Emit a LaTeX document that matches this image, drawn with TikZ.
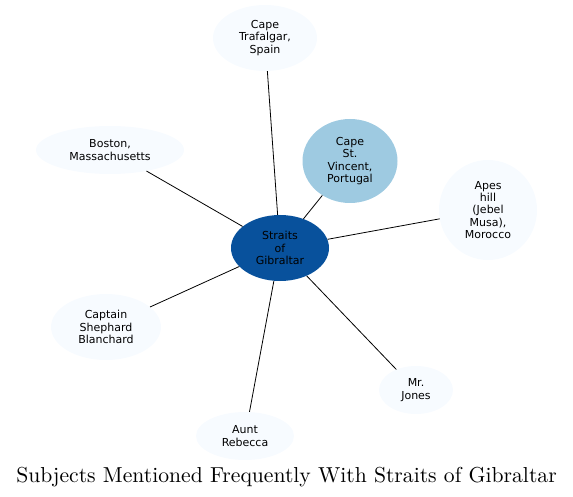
\documentclass[tikz,border=0pt]{standalone}
\usepackage{fontspec}
\usetikzlibrary{shapes.geometric}
\newfontfamily\labelfont{DejaVu Sans}
\definecolor{hubfill}{HTML}{08519C}
\definecolor{nearfill}{HTML}{9ECAE1}
\definecolor{farfill}{HTML}{F7FBFF}

\begin{document}
\begin{tikzpicture}[
  x=1pt, y=-1pt,
  font=\labelfont\fontsize{11}{12.2}\selectfont,
  topic/.style={ellipse, draw=none, fill=farfill, inner sep=0pt, align=center},
  hub/.style={topic, fill=hubfill},
  near/.style={topic, fill=nearfill},
  link/.style={draw=black, line width=0.8pt},
  caption/.style={font=\rmfamily\fontsize{10}{12}\selectfont, scale=2.165, anchor=base}
]
  \useasboundingbox (0,0) rectangle (573,497);
  \node[hub, minimum width=98, minimum height=66]   (gib)   at (280,248) {Straits\\of\\Gibraltar};
  \node[near, minimum width=95, minimum height=84]  (vinc)  at (350,161) {Cape\\St.\\Vincent,\\Portugal};
  \node[topic, minimum width=104, minimum height=66] (traf) at (265,38)  {Cape\\Trafalgar,\\Spain};
  \node[topic, minimum width=148, minimum height=48] (bost) at (110,150) {Boston,\\Massachusetts};
  \node[topic, minimum width=98, minimum height=100] (apes) at (488,210) {Apes\\hill\\(Jebel\\Musa),\\Morocco};
  \node[topic, minimum width=110, minimum height=66] (capt) at (106,327) {Captain\\Shephard\\Blanchard};
  \node[topic, minimum width=98, minimum height=48]  (aunt) at (245,436) {Aunt\\Rebecca};
  \node[topic, minimum width=74, minimum height=48]  (jones) at (416,390) {Mr.\\Jones};
  \foreach \n in {vinc,traf,bost,apes,capt,aunt,jones}
    \draw[link] (gib) -- (\n);
  \node[caption] (title) at (286.5,482) {Subjects Mentioned Frequently With Straits of Gibraltar};
\end{tikzpicture}
\end{document}
